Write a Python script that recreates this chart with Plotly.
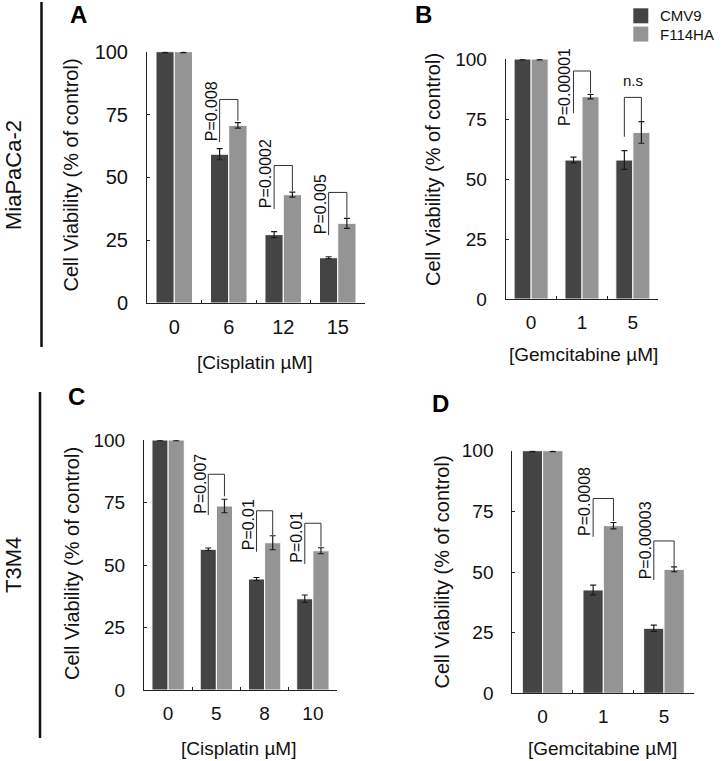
import plotly.graph_objects as go

W, H = 725, 761
FONT = "Liberation Sans, Arial, Helvetica, sans-serif"

series_names = ["CMV9", "F114HA"]
series_colors = ["#444444", "#949494"]

# ---- Panel A : MiaPaCa-2, Cisplatin ----
A_cats = ["0", "6", "12", "15"]
A_cmv9 = [100, 59.2, 27.2, 18.0]
A_cmv9_err = [0.4, 2.2, 1.2, 0.4]
A_f114 = [100, 70.7, 43.1, 31.7]
A_f114_err = [0.4, 1.1, 1.0, 2.0]
A_br_idx = [1, 2, 3]
A_br_top = [81, 54.7, 44]
A_br_left = [64, 37.4, 27]
A_br_right = [72.5, 44.6, 34]
A_br_label = ["P=0.008", "P=0.0002", "P=0.005"]
A_br_label_y = [64, 37.4, 27]

# ---- Panel B : MiaPaCa-2, Gemcitabine ----
B_cats = ["0", "1", "5"]
B_cmv9 = [100, 57.9, 57.9]
B_cmv9_err = [0.4, 1.2, 3.9]
B_f114 = [100, 84.3, 69.4]
B_f114_err = [0.4, 0.9, 4.5]
B_br_idx = [1, 2]
B_br_top = [95, 84]
B_br_left = [77.4, 67.6]
B_br_right = [85.6, 74.2]
B_br_label = ["P=0.00001", "n.s"]
B_br_label_y = [71.7, 91]

# ---- Panel C : T3M4, Cisplatin ----
C_cats = ["0", "5", "8", "10"]
C_cmv9 = [100, 56.3, 44.4, 36.5]
C_cmv9_err = [0.3, 0.5, 0.6, 1.5]
C_f114 = [100, 73.6, 58.9, 55.7]
C_f114_err = [0.3, 2.7, 2.8, 1.2]
C_br_idx = [1, 2, 3]
C_br_top = [86.3, 71.7, 66.7]
C_br_left = [70, 55.3, 50.4]
C_br_right = [77.5, 62, 57.3]
C_br_label = ["P=0.007", "P=0.01", "P=0.01"]
C_br_label_y = [70, 55.3, 50.4]

# ---- Panel D : T3M4, Gemcitabine ----
D_cats = ["0", "1", "5"]
D_cmv9 = [100, 42.6, 26.8]
D_cmv9_err = [0.4, 2.0, 1.3]
D_f114 = [100, 69.1, 51.1]
D_f114_err = [0.4, 1.3, 1.0]
D_br_idx = [1, 2]
D_br_top = [80.3, 62.8]
D_br_left = [64.5, 46.7]
D_br_right = [71, 52.2]
D_br_label = ["P=0.0008", "P=0.00003"]
D_br_label_y = [64.5, 46.7]

y_ticks = [0, 25, 50, 75, 100]
BARGAP = 0.33


def px(x):
    return x / W


def py(y):
    return 1 - y / H


panels = [
    dict(n=1, cats=A_cats, v=[A_cmv9, A_f114], e=[A_cmv9_err, A_f114_err],
         idx=A_br_idx, top=A_br_top, left=A_br_left, right=A_br_right,
         lab=A_br_label, laby=A_br_label_y, tfs=20,
         xdom=(147, 365), ydom=(303, 51.7), letter="A", letter_pos=(78, 15),
         ytitle_pos=(70, 175.5), xtitle="[Cisplatin µM]", xtitle_pos=(254, 362)),
    dict(n=2, cats=B_cats, v=[B_cmv9, B_f114], e=[B_cmv9_err, B_f114_err],
         idx=B_br_idx, top=B_br_top, left=B_br_left, right=B_br_right,
         lab=B_br_label, laby=B_br_label_y, tfs=19,
         xdom=(505.7, 658.3), ydom=(299, 59), letter="B", letter_pos=(423, 15),
         ytitle_pos=(433, 170), xtitle="[Gemcitabine µM]", xtitle_pos=(583, 355)),
    dict(n=3, cats=C_cats, v=[C_cmv9, C_f114], e=[C_cmv9_err, C_f114_err],
         idx=C_br_idx, top=C_br_top, left=C_br_left, right=C_br_right,
         lab=C_br_label, laby=C_br_label_y, tfs=19,
         xdom=(144, 337), ydom=(690, 440), letter="C", letter_pos=(76, 396),
         ytitle_pos=(72, 564), xtitle="[Cisplatin µM]", xtitle_pos=(238, 748)),
    dict(n=4, cats=D_cats, v=[D_cmv9, D_f114], e=[D_cmv9_err, D_f114_err],
         idx=D_br_idx, top=D_br_top, left=D_br_left, right=D_br_right,
         lab=D_br_label, laby=D_br_label_y, tfs=19,
         xdom=(512.3, 694.3), ydom=(693.3, 450.7), letter="D", letter_pos=(440, 404),
         ytitle_pos=(441, 572.5), xtitle="[Gemcitabine µM]", xtitle_pos=(602, 748)),
]

fig = go.Figure()
layout = dict(
    template="none",
    width=W, height=H, autosize=False,
    margin=dict(l=0, r=0, t=0, b=0, pad=0, autoexpand=False),
    paper_bgcolor="white", plot_bgcolor="white",
    barmode="group", bargap=BARGAP, bargroupgap=0,
    font=dict(family=FONT, color="#111111"),
    showlegend=False,
)
annotations = []
shapes = []

half = (1 - BARGAP) / 4  # offset of each bar's centre from category centre

for p in panels:
    n = p["n"]
    xa = "xaxis" if n == 1 else f"xaxis{n}"
    ya = "yaxis" if n == 1 else f"yaxis{n}"
    xr = "x" if n == 1 else f"x{n}"
    yr = "y" if n == 1 else f"y{n}"
    for s in range(2):
        fig.add_trace(go.Bar(
            x=p["cats"], y=p["v"][s], name=series_names[s],
            marker=dict(color=series_colors[s], line=dict(color="white", width=1)),
            error_y=dict(type="data", array=p["e"][s], color="#1a1a1a",
                         thickness=1.2, width=3),
            xaxis=xr, yaxis=yr, cliponaxis=False,
        ))
    layout[xa] = dict(
        domain=[px(p["xdom"][0]), px(p["xdom"][1])], anchor=yr, automargin=False,
        type="category", range=[-0.5, len(p["cats"]) - 0.5],
        tickson="boundaries", ticks="inside", ticklen=3, tickcolor="#222",
        showline=True, linecolor="#222", linewidth=1, showgrid=False, zeroline=False,
        ticklabelstandoff=6,
        tickfont=dict(size=p["tfs"], family=FONT, color="#111"),
    )
    layout[ya] = dict(
        domain=[py(p["ydom"][0]), py(p["ydom"][1])], anchor=xr, automargin=False,
        range=[0, 100], tickvals=y_ticks, ticks="inside", ticklen=3,
        tickcolor="#222", showline=True, linecolor="#222", linewidth=1,
        showgrid=False, zeroline=False, ticklabelstandoff=14,
        tickfont=dict(size=p["tfs"], family=FONT, color="#111"),
    )
    # brackets
    for i, gi in enumerate(p["idx"]):
        xl = gi - half
        xrr = gi + half
        lc = dict(color="#333333", width=1)
        shapes.append(dict(type="line", xref=xr, yref=yr, x0=xl, x1=xl,
                           y0=p["left"][i], y1=p["top"][i], line=lc))
        shapes.append(dict(type="line", xref=xr, yref=yr, x0=xl, x1=xrr,
                           y0=p["top"][i], y1=p["top"][i], line=lc))
        shapes.append(dict(type="line", xref=xr, yref=yr, x0=xrr, x1=xrr,
                           y0=p["right"][i], y1=p["top"][i], line=lc))
        label = p["lab"][i]
        if label.startswith("P"):
            annotations.append(dict(
                xref=xr, yref=yr, x=xl, y=p["laby"][i], text=label,
                textangle=-90, xanchor="right", yanchor="bottom",
                showarrow=False, font=dict(size=16, family=FONT, color="#111"),
                borderpad=0, xshift=1))
        else:
            annotations.append(dict(
                xref=xr, yref=yr, x=gi, y=p["laby"][i], text=label,
                xanchor="center", yanchor="middle", showarrow=False,
                font=dict(size=15, family=FONT, color="#111")))
    # panel letter
    annotations.append(dict(
        xref="paper", yref="paper", x=px(p["letter_pos"][0]), y=py(p["letter_pos"][1]),
        text=f"<b>{p['letter']}</b>", showarrow=False, xanchor="center", yanchor="middle",
        font=dict(size=24, family=FONT, color="#000")))
    # y title
    annotations.append(dict(
        xref="paper", yref="paper", x=px(p["ytitle_pos"][0]), y=py(p["ytitle_pos"][1]),
        text="Cell Viability (% of control)", textangle=-90, showarrow=False,
        xanchor="center", yanchor="middle",
        font=dict(size=20, family=FONT, color="#111")))
    # x title
    annotations.append(dict(
        xref="paper", yref="paper", x=px(p["xtitle_pos"][0]), y=py(p["xtitle_pos"][1]),
        text=p["xtitle"], showarrow=False, xanchor="center", yanchor="middle",
        font=dict(size=19, family=FONT, color="#111")))

# legend (drawn as swatches + labels from the series lists)
for s in range(2):
    top = 8.3 + s * 18.3
    shapes.append(dict(type="rect", xref="paper", yref="paper",
                       x0=px(633.3), x1=px(648.3), y0=py(top + 15), y1=py(top),
                       fillcolor=series_colors[s], line=dict(width=0)))
    annotations.append(dict(xref="paper", yref="paper", x=px(658), y=py(top + 7.5),
                            text=series_names[s], showarrow=False,
                            xanchor="left", yanchor="middle",
                            font=dict(size=15, family=FONT, color="#111")))

# row labels and separator lines
annotations.append(dict(xref="paper", yref="paper", x=px(14), y=py(175),
                        text="MiaPaCa-2", textangle=-90, showarrow=False,
                        xanchor="center", yanchor="middle",
                        font=dict(size=22, family=FONT, color="#111")))
annotations.append(dict(xref="paper", yref="paper", x=px(13), y=py(565),
                        text="T3M4", textangle=-90, showarrow=False,
                        xanchor="center", yanchor="middle",
                        font=dict(size=22, family=FONT, color="#111")))
shapes.append(dict(type="line", xref="paper", yref="paper", x0=px(41.5), x1=px(41.5),
                   y0=py(2), y1=py(347), line=dict(color="#111", width=2.5)))
shapes.append(dict(type="line", xref="paper", yref="paper", x0=px(40), x1=px(40),
                   y0=py(392), y1=py(738), line=dict(color="#111", width=2.5)))

layout["annotations"] = annotations
layout["shapes"] = shapes
fig.update_layout(**layout)
fig.write_html(
    "out.html",
    config={"displayModeBar": False},
    post_script="document.body.style.margin='0';document.body.style.padding='0';"
                "document.body.style.overflow='hidden';",
)
